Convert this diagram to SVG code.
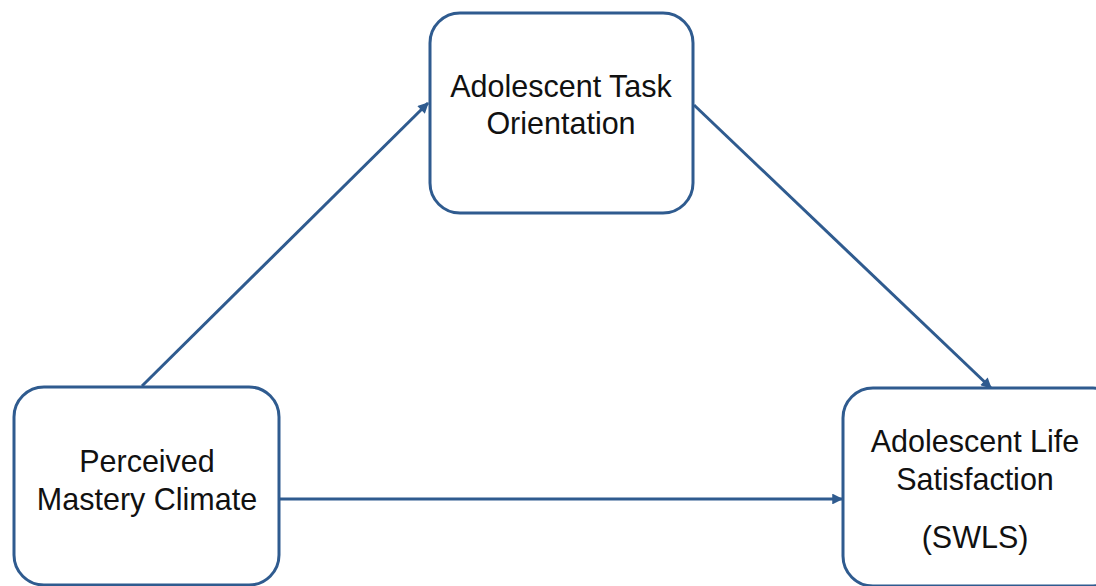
<svg xmlns="http://www.w3.org/2000/svg" width="1096" height="586" viewBox="0 0 1096 586">
<defs>
<style>
.box{fill:#fff;stroke:#2f5b8f;stroke-width:3}
.lbl{font-family:"Liberation Sans",Arial,sans-serif;font-size:30.5px;fill:#111;text-anchor:middle}
.edge{stroke:#2f5b8f;stroke-width:3;fill:none}
</style>
<marker id="ah" viewBox="0 0 10 10" refX="9" refY="5" markerWidth="4" markerHeight="3.6" orient="auto" markerUnits="strokeWidth">
<path d="M0,0 L10,5 L0,10 z" fill="#2f5b8f"/>
</marker>
</defs>
<rect width="1096" height="586" fill="#fff"/>
<g id="connectors">
<line class="edge" x1="142" y1="386" x2="428" y2="103" marker-end="url(#ah)"/>
<line class="edge" x1="694" y1="105" x2="991" y2="388" marker-end="url(#ah)"/>
<line class="edge" x1="279" y1="499" x2="842" y2="499" marker-end="url(#ah)"/>
</g>
<g id="task">
<rect class="box" x="430" y="13" width="263" height="200" rx="30"/>
<text class="lbl" x="561" y="97">Adolescent Task</text>
<text class="lbl" x="561" y="134">Orientation</text>
</g>
<g id="climate">
<rect class="box" x="14" y="387" width="265" height="198" rx="30"/>
<text class="lbl" x="147" y="472">Perceived</text>
<text class="lbl" x="147" y="510">Mastery Climate</text>
</g>
<g id="life">
<rect class="box" x="843" y="388" width="280" height="198" rx="30"/>
<text class="lbl" x="975" y="452">Adolescent Life</text>
<text class="lbl" x="975" y="490">Satisfaction</text>
<text class="lbl" x="975" y="548">(SWLS)</text>
</g>
</svg>
